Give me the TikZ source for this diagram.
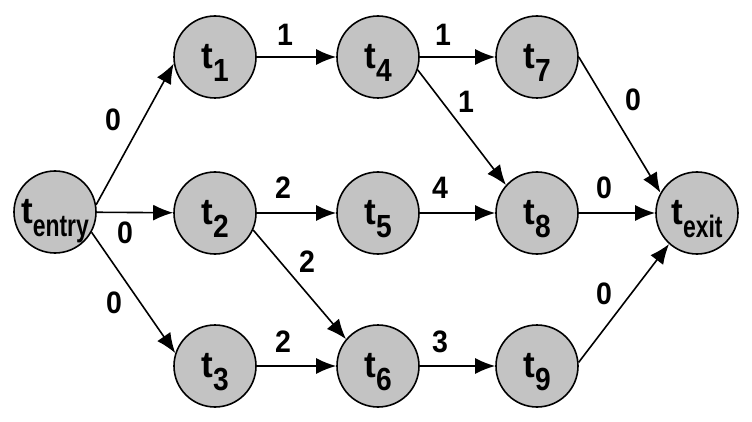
\documentclass[tikz,border=0pt]{standalone}
\usepackage{fontspec}
\setmainfont{Liberation Sans}
\newfontfamily\mainfnt{Liberation Sans}[FakeStretch=0.95]
\newfontfamily\subfnt{Liberation Sans}[FakeStretch=0.88]
\newfontfamily\wordfnt{Liberation Sans}[FakeStretch=0.74]
\newfontfamily\labfnt{Liberation Sans}[FakeStretch=0.92]
\usetikzlibrary{arrows.meta}
\definecolor{nodegray}{RGB}{195,195,195}
\newcommand\tsub[1]{\raisebox{-13pt}{\subfnt\bfseries\fontsize{32}{32}\selectfont #1}}
\newcommand\tword[1]{\raisebox{-13pt}{\wordfnt\bfseries\fontsize{31}{31}\selectfont #1}}
\begin{document}
\begin{tikzpicture}[x=1pt,y=-1pt,
  task/.style={circle,draw=black,line width=1.6pt,fill=nodegray,minimum size=82pt,inner sep=0pt,
    font=\mainfnt\bfseries\fontsize{37}{37}\selectfont,text height=31pt,text depth=8pt},
  arr/.style={line width=1.6pt,-{Latex[length=20pt,width=16pt]}},
  lab/.style={inner sep=0pt,font=\labfnt\bfseries\fontsize{31}{31}\selectfont}]
\useasboundingbox (0,0) rectangle (752,422);
\fill[white] (0,0) rectangle (752,422);
\node[task] (te) at (55,212) {t\tword{entry}};
\node[task] (t1) at (215,57) {t\tsub{1}};
\node[task] (t2) at (215,213) {t\tsub{2}};
\node[task] (t3) at (215,366) {t\tsub{3}};
\node[task] (t4) at (378,57) {t\tsub{4}};
\node[task] (t5) at (378,213) {t\tsub{5}};
\node[task] (t6) at (378,366) {t\tsub{6}};
\node[task] (t7) at (537,57) {t\tsub{7}};
\node[task] (t8) at (537,213) {t\tsub{8}};
\node[task] (t9) at (537,366) {t\tsub{9}};
\node[task] (tx) at (697,213) {t\tword{exit}};
\draw[arr] (te.10) -- (t1.189) node[lab] at (113,120) {0};
\draw[arr] (te) -- (t2) node[lab] at (125,233) {0};
\draw[arr] (te.-29) -- (t3.162) node[lab] at (114,303) {0};
\draw[arr] (t1) -- (t4) node[lab] at (285,35) {1};
\draw[arr] (t4) -- (t7) node[lab] at (443,35) {1};
\draw[arr] (t4.-18) -- (t8.138) node[lab] at (466,102) {1};
\draw[arr] (t2) -- (t5) node[lab] at (283,188) {2};
\draw[arr] (t2.-24) -- (t6.140) node[lab] at (307,262) {2};
\draw[arr] (t5) -- (t8) node[lab] at (440,188) {4};
\draw[arr] (t3) -- (t6) node[lab] at (283,342) {2};
\draw[arr] (t6) -- (t9) node[lab] at (440,342) {3};
\draw[arr] (t7.east) -- (tx.151) node[lab] at (633,100) {0};
\draw[arr] (t8) -- (tx) node[lab] at (604,188) {0};
\draw[arr] (t9.5) -- (tx.228) node[lab] at (604,294) {0};
\end{tikzpicture}
\end{document}
